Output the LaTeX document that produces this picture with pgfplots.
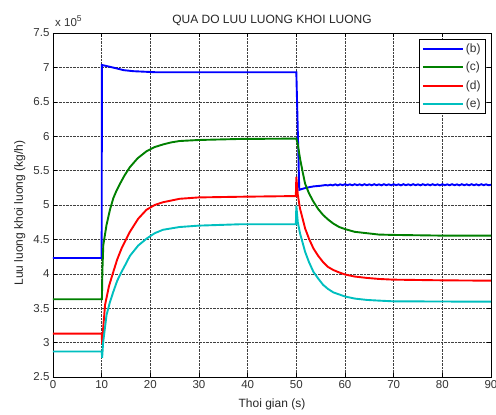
\documentclass[border=0pt]{standalone}
\usepackage{fontspec}
\setmainfont{Liberation Sans}
\usepackage{pgfplots}
\pgfplotsset{compat=1.18}
\definecolor{mgreen}{rgb}{0,0.5,0}
\definecolor{mcyan}{rgb}{0,0.75,0.75}
\begin{document}
\begin{tikzpicture}
\begin{axis}[name=ax, scale only axis, width=438pt, height=344pt,
  xmin=0, xmax=90, ymin=2.5, ymax=7.5,
  xtick={0,10,...,90}, ytick={2.5,3,...,7.5},
  /pgf/number format/assume math mode=true,
  yticklabel style={/pgf/number format/fixed, /pgf/number format/precision=1},
  tick label style={font=\fontsize{11.5}{12}\selectfont, text=black!80},
  grid=major, major grid style={densely dotted, black!75, line width=0.5pt},
  tick align=inside, major tick length=4pt, tick style={black, line width=0.5pt},
  axis line style={black, line width=0.7pt},
  legend cell align=left,
  legend style={at={(0.9886,0.9826)}, anchor=north east, draw=black, line width=0.8pt,
    font=\fontsize{12}{13}\selectfont, text=black!80, inner xsep=3pt, inner ysep=2.5pt, row sep=4.2pt},
  legend image code/.code={\draw[#1, line width=1.9pt] (0pt,0pt) -- (40pt,0pt);},
]
\addplot[blue, line width=1.9pt] coordinates {
(0,4.23) (10,4.23) (10.05,7.035) (11,7.02) (13.1,6.985) (14.5,6.96) (16.5,6.945) (18,6.94) (21,6.93) (35,6.93) (50,6.93)
(50.6,5.22) (51,5.23) (52,5.25) (53.5,5.27) (55,5.28) (56,5.29) (56.5,5.285)
(57,5.295) (57.5,5.285) (58,5.3) (58.5,5.285) (59,5.3) (59.5,5.288) (60,5.302) (60.5,5.288)
(61,5.3) (61.5,5.287) (62,5.302) (62.5,5.288) (63,5.3) (63.5,5.286) (64,5.302) (64.5,5.288)
(65,5.3) (65.5,5.287) (66,5.302) (66.5,5.288) (67,5.3) (67.5,5.286) (68,5.302) (68.5,5.288)
(69,5.3) (69.5,5.287) (70,5.302) (70.5,5.288) (71,5.3) (71.5,5.286) (72,5.302) (72.5,5.288)
(73,5.3) (73.5,5.287) (74,5.302) (74.5,5.288) (75,5.3) (75.5,5.286) (76,5.302) (76.5,5.288)
(77,5.3) (77.5,5.287) (78,5.302) (78.5,5.288) (79,5.3) (79.5,5.286) (80,5.302) (80.5,5.288)
(81,5.3) (81.5,5.287) (82,5.302) (82.5,5.288) (83,5.3) (83.5,5.286) (84,5.302) (84.5,5.288)
(85,5.3) (85.5,5.287) (86,5.302) (86.5,5.288) (87,5.3) (87.5,5.286) (88,5.302) (88.5,5.288)
(89,5.3) (89.5,5.287) (90,5.295)
};
\addlegendentry{(b)}
\addplot[mgreen, line width=1.9pt] coordinates {
(0,3.63) (10.05,3.63) (10.15,4.05) (10.34,4.42) (11,4.71) (11.7,4.93) (12.4,5.10) (13,5.20) (13.7,5.30)
(14.7,5.43) (15.8,5.55) (17.4,5.68) (19.2,5.78) (20.8,5.84) (22.6,5.88) (24.3,5.91) (26,5.93) (30,5.945) (38.4,5.96) (50,5.965)
(50.3,5.88) (50.75,5.68) (51.3,5.48) (51.8,5.31) (52.6,5.17) (53.5,5.05) (54.5,4.94) (55.5,4.855) (56.5,4.79) (57.6,4.73)
(58.8,4.68) (60,4.65) (62,4.61) (64.5,4.59) (67,4.57) (70,4.565) (80,4.555) (90,4.555)
};
\addlegendentry{(c)}
\addplot[red, line width=1.9pt] coordinates {
(0,3.13) (10,3.13) (10.1,2.98) (10.3,3.2) (10.7,3.55) (11.5,3.82) (12.4,4.03) (13.2,4.21) (14.1,4.37) (15,4.50) (15.8,4.61)
(17.5,4.80) (19.2,4.93) (20.9,5.00) (22.6,5.04) (26,5.09) (29.9,5.11) (38.4,5.12) (49.9,5.13)
(50,5.41) (50.3,5.15) (50.75,4.95) (51.3,4.80) (51.8,4.66) (52.6,4.51) (53.5,4.37) (54.5,4.26) (55.5,4.17) (56.5,4.10)
(57.6,4.055) (58.8,4.02) (60,3.99) (62,3.96) (64.5,3.94) (67,3.925) (69.9,3.915) (80,3.905) (90,3.90)
};
\addlegendentry{(d)}
\addplot[mcyan, line width=1.9pt] coordinates {
(0,2.87) (10,2.87) (10.1,2.78) (10.3,3.0) (11,3.40) (11.7,3.59) (12.4,3.74) (13.2,3.90) (14.1,4.03) (15,4.15) (15.8,4.26)
(17.5,4.41) (19.2,4.51) (20.9,4.59) (22.6,4.64) (26,4.68) (29.9,4.70) (38.4,4.72) (49.9,4.72)
(50,4.99) (50.3,4.75) (50.75,4.59) (51.3,4.45) (51.8,4.32) (52.6,4.17) (53.5,4.03) (54.5,3.93) (55.5,3.84) (56.5,3.78)
(57.6,3.73) (58.8,3.70) (60,3.67) (62,3.64) (64.5,3.62) (67,3.61) (69.9,3.60) (80,3.597) (90,3.595)
};
\addlegendentry{(e)}
\end{axis}
\node[anchor=base, font=\fontsize{12}{13}\selectfont, text=black!85] at ([yshift=10pt]ax.north) {QUA DO LUU LUONG KHOI LUONG};
\node[anchor=base west, font=\fontsize{11.5}{12}\selectfont, text=black!80, inner sep=0pt] at ([xshift=2pt,yshift=7pt]ax.north west) {x 10\raisebox{5pt}{\fontsize{8.5}{9}\selectfont 5}};
\node[anchor=base, font=\fontsize{12}{13}\selectfont, text=black!85] at ([yshift=-31pt]ax.south) {Thoi gian (s)};
\node[anchor=base, rotate=90, font=\fontsize{12}{13}\selectfont, text=black!85] at ([xshift=-30pt,yshift=-8pt]ax.west) {Luu luong khoi luong (kg/h)};
\pgfresetboundingbox
\path ([xshift=-53pt,yshift=-38pt]ax.south west) rectangle ++(496pt,415pt);
\end{tikzpicture}
\end{document}
